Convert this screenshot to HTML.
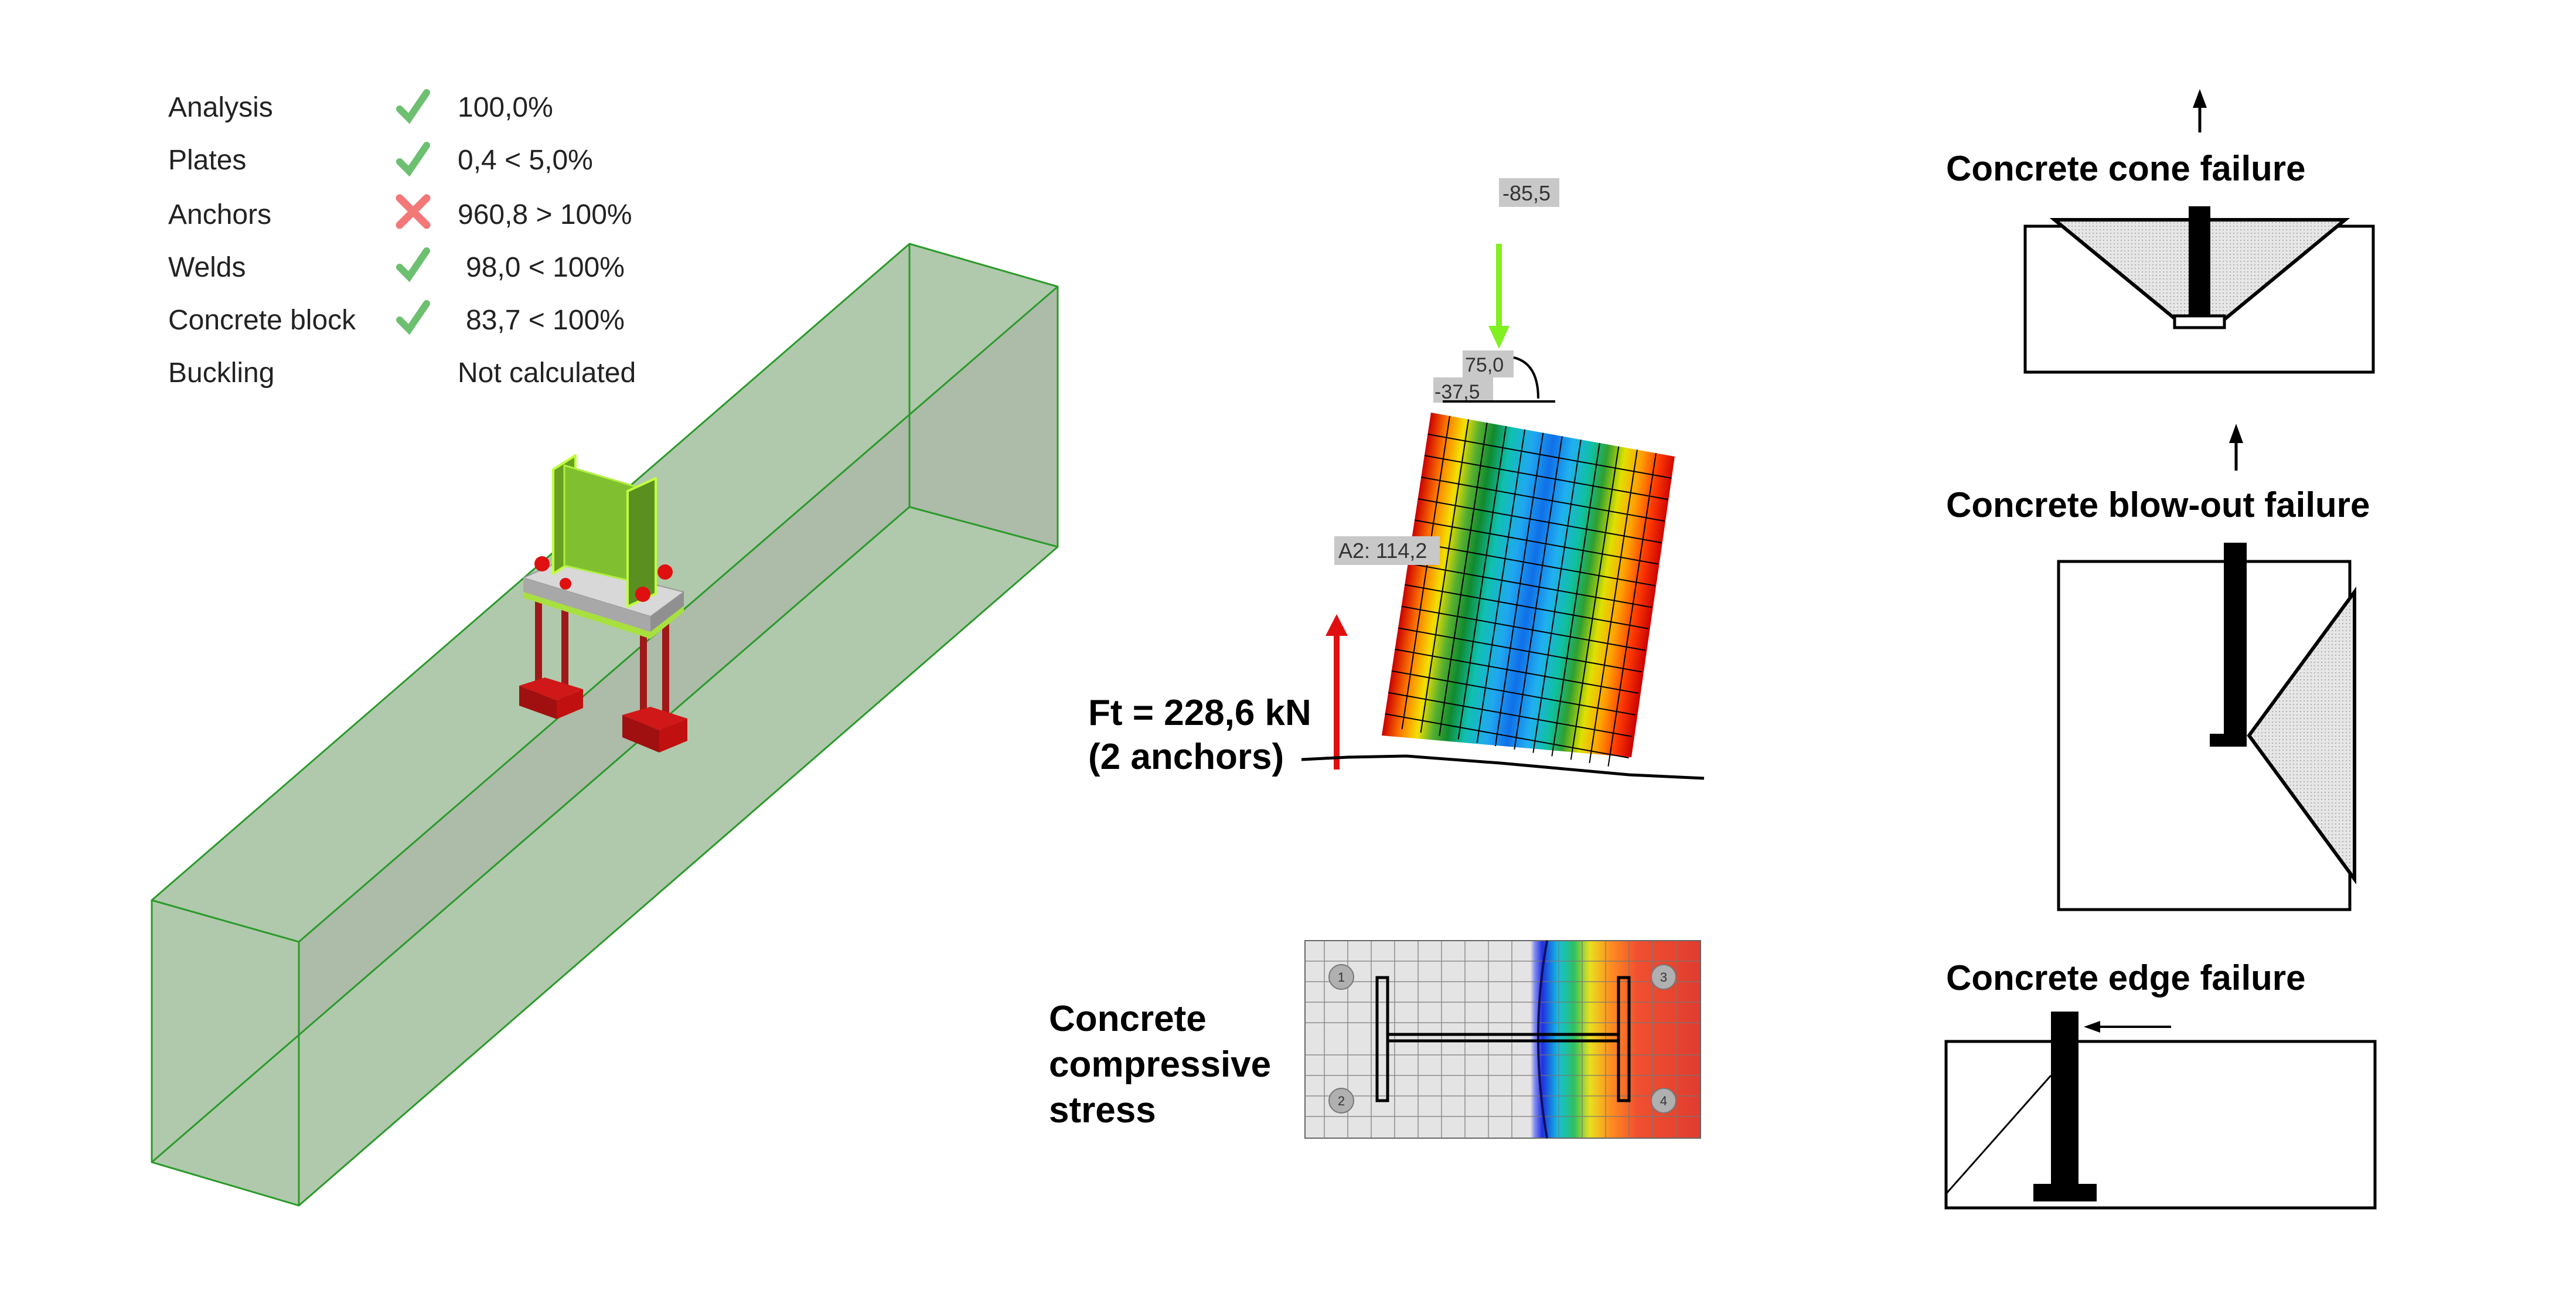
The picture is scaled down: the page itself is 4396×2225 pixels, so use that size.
<!DOCTYPE html>
<html><head><meta charset="utf-8"><style>
html,body{margin:0;padding:0;background:#fff;}
svg{display:block;}
text{font-family:"Liberation Sans",sans-serif;}
</style></head><body>
<svg width="4396" height="2225" viewBox="0 0 4396 2225" xmlns="http://www.w3.org/2000/svg">
<defs>
<linearGradient id="pg" x1="0" y1="0" x2="1" y2="0">
<stop offset="0" stop-color="#cc0000"/><stop offset="0.07" stop-color="#ff7a00"/><stop offset="0.14" stop-color="#f2e000"/><stop offset="0.2" stop-color="#58b030"/><stop offset="0.26" stop-color="#108a30"/><stop offset="0.33" stop-color="#10c0b0"/><stop offset="0.42" stop-color="#20a8f0"/><stop offset="0.5" stop-color="#1070e8"/><stop offset="0.58" stop-color="#20b0f0"/><stop offset="0.66" stop-color="#10c0a0"/><stop offset="0.72" stop-color="#30a030"/><stop offset="0.79" stop-color="#e0e000"/><stop offset="0.86" stop-color="#ffa000"/><stop offset="0.93" stop-color="#ff3a00"/><stop offset="1" stop-color="#c80000"/>
</linearGradient>
<linearGradient id="sg" x1="0" y1="0" x2="1" y2="0">
<stop offset="0" stop-color="#e4e4e4"/><stop offset="0.57" stop-color="#e4e4e4"/><stop offset="0.58" stop-color="#8890f0"/><stop offset="0.6" stop-color="#2030e0"/><stop offset="0.64" stop-color="#10c0e0"/><stop offset="0.68" stop-color="#30c060"/><stop offset="0.72" stop-color="#e8e020"/><stop offset="0.77" stop-color="#ff9020"/><stop offset="0.84" stop-color="#f05030"/><stop offset="1" stop-color="#e03c30"/>
</linearGradient>
<pattern id="dots" width="6" height="6" patternUnits="userSpaceOnUse"><rect width="6" height="6" fill="#e6e6e6"/><rect x="1" y="1" width="2" height="2" fill="#b0b0b0"/></pattern>
</defs>

<!-- results table -->
<g font-size="48" fill="#222">
<text x="287" y="199">Analysis</text>
<text x="287" y="289">Plates</text>
<text x="287" y="382">Anchors</text>
<text x="287" y="472">Welds</text>
<text x="287" y="562">Concrete block</text>
<text x="287" y="652">Buckling</text>
<text x="781" y="199">100,0%</text>
<text x="781" y="289">0,4 &lt; 5,0%</text>
<text x="781" y="382">960,8 &gt; 100%</text>
<text x="795" y="472">98,0 &lt; 100%</text>
<text x="795" y="562">83,7 &lt; 100%</text>
<text x="781" y="652">Not calculated</text>
</g>
<g stroke="#6cc070" stroke-width="12" fill="none" stroke-linecap="round">
<path d="M682 186 L698 202 L728 158"/>
<path d="M682 276 L698 292 L728 248"/>
<path d="M682 456 L698 472 L728 428"/>
<path d="M682 546 L698 562 L728 518"/>
</g>
<g stroke="#f47878" stroke-width="13" stroke-linecap="round"><path d="M682 338 L728 384 M728 338 L682 384"/></g>

<!-- green box -->
<polygon points="259,1536 1552,416 1805,489 1805,933 510,2057 259,1983" fill="#b0c9ac"/>
<polygon points="510,1607 1805,489 1805,933 1552,865 510,1766" fill="#adbba9"/>
<g stroke="#2a9a2a" stroke-width="3" fill="none" stroke-linejoin="round">
<polygon points="259,1536 1552,416 1805,489 1805,933 510,2057 259,1983"/>
<line x1="259" y1="1536" x2="510" y2="1607"/>
<line x1="510" y1="1607" x2="510" y2="2057"/>
<line x1="510" y1="1607" x2="1805" y2="489"/>
<line x1="259" y1="1983" x2="1552" y2="865"/>
<line x1="1552" y1="416" x2="1552" y2="865"/>
<line x1="1552" y1="865" x2="1805" y2="933"/>
</g>

<!-- steel model -->
<g stroke-linejoin="round">
<rect x="913" y="1021" width="12" height="185" fill="#a01818"/>
<rect x="958" y="1021" width="12" height="185" fill="#a01818"/>
<rect x="1092" y="1064" width="12" height="184" fill="#a01818"/>
<rect x="1130" y="1064" width="12" height="184" fill="#a01818"/>
<polygon points="886,1170 930,1156 995,1176 950,1195" fill="#d01818"/>
<polygon points="886,1170 950,1195 950,1227 886,1204" fill="#a01010"/>
<polygon points="950,1195 995,1176 995,1208 950,1227" fill="#c01010"/>
<polygon points="1062,1220 1110,1206 1173,1226 1125,1246" fill="#d01818"/>
<polygon points="1062,1220 1125,1246 1125,1284 1062,1258" fill="#a01010"/>
<polygon points="1125,1246 1173,1226 1173,1264 1125,1284" fill="#c01010"/>
<polygon points="893,986 957,957 1167,1010 1110,1052" fill="#d8d8d8" stroke="#999" stroke-width="2"/>
<polygon points="893,986 1110,1052 1110,1078 893,1010" fill="#a8a8a8"/>
<polygon points="1110,1052 1167,1010 1167,1034 1110,1078" fill="#909090"/>
<polygon points="893,1010 1110,1078 1167,1034 1167,1044 1110,1090 893,1020" fill="#a8e040"/>
<polygon points="944,801 982,777 982,955 944,979" fill="#6aa020" stroke="#c0ff40" stroke-width="4"/>
<polygon points="963,794 1084,830 1084,993 963,965" fill="#80c030" stroke="#b0f040" stroke-width="3"/>
<polygon points="1071,838 1119,816 1119,1013 1071,1035" fill="#5a9020" stroke="#c0ff40" stroke-width="4"/>
<circle cx="925" cy="962" r="13" fill="#e01010"/>
<circle cx="1135" cy="976" r="13" fill="#e01010"/>
<circle cx="1097" cy="1014" r="13" fill="#e01010"/>
<circle cx="965" cy="996" r="10" fill="#e01010"/>
</g>

<!-- middle: deformed plate -->
<rect x="2558" y="304" width="103" height="49" fill="#c8c8c8"/>
<text x="2564" y="342" font-size="36" fill="#333">-85,5</text>
<line x1="2558" y1="416" x2="2558" y2="560" stroke="#80f020" stroke-width="10"/>
<polygon points="2540,556 2576,556 2558,595" fill="#80f020"/>
<rect x="2496" y="598" width="87" height="46" fill="#c8c8c8"/>
<text x="2500" y="634" font-size="34" fill="#333">75,0</text>
<rect x="2446" y="644" width="102" height="43" fill="#c8c8c8"/>
<text x="2448" y="680" font-size="34" fill="#333">-37,5</text>
<line x1="2462" y1="685" x2="2654" y2="685" stroke="#000" stroke-width="4"/>
<path d="M2583 610 Q2625 620 2625 680" stroke="#000" stroke-width="4" fill="none"/>

<g transform="matrix(4.16,0.75,-0.84,5.51,2442,704)">
<polygon points="0,0 100,0 101,93 0,100" fill="url(#pg)"/>
<g stroke="#000" stroke-width="2" fill="none">
<path vector-effect="non-scaling-stroke" d="M7.7 0V97 M15.4 0V97 M23 0V97 M30.8 0V97 M38.5 0V97 M46 0V97 M53.8 0V97 M61.5 0V97 M69.2 0V97 M77 0V97 M84.6 0V97 M92.3 0V97 M0 6.7H100 M0 13.3H100 M0 20H100 M0 26.7H100 M0 33.3H100 M0 40H100 M0 46.7H100 M0 53.3H100 M0 60H100 M0 66.7H100 M0 73.3H100 M0 80H100 M0 86.7H100 M0 93.3H100"/>
</g>
</g>
<rect x="2277" y="915" width="180" height="49" fill="#c8c8c8"/>
<text x="2284" y="952" font-size="36" fill="#333">A2: 114,2</text>
<line x1="2281" y1="1080" x2="2281" y2="1313" stroke="#e01010" stroke-width="10"/>
<polygon points="2262,1085 2300,1085 2281,1048" fill="#e01010"/>
<path d="M2221 1296 L2300 1292 L2400 1290 L2560 1302 L2780 1322 L2908 1328" stroke="#000" stroke-width="5" fill="none"/>
<g font-size="62" font-weight="bold" fill="#000">
<text x="1857" y="1237">Ft = 228,6 kN</text>
<text x="1857" y="1312">(2 anchors)</text>
<text x="1790" y="1759">Concrete</text>
<text x="1790" y="1837">compressive</text>
<text x="1790" y="1915">stress</text>
</g>

<!-- stress plot -->
<rect x="2227" y="1605" width="675" height="337" fill="url(#sg)" stroke="#666" stroke-width="2"/>
<g stroke="#777" stroke-width="1.5" fill="none" opacity="0.8">
<path d="M2260 1605V1942 M2300 1605V1942 M2340 1605V1942 M2380 1605V1942 M2420 1605V1942 M2460 1605V1942 M2500 1605V1942 M2540 1605V1942 M2580 1605V1942 M2660 1605V1942 M2700 1605V1942 M2740 1605V1942 M2780 1605V1942 M2820 1605V1942 M2860 1605V1942 M2227 1640H2902 M2227 1675H2902 M2227 1710H2902 M2227 1745H2902 M2227 1800H2902 M2227 1835H2902 M2227 1870H2902 M2227 1905H2902"/>
</g>
<path d="M2640 1605 Q2610 1770 2640 1942" stroke="#101060" stroke-width="4" fill="none"/>
<g stroke="#000" stroke-width="5" fill="none">
<rect x="2350" y="1668" width="18" height="210"/>
<rect x="2762" y="1668" width="18" height="210"/>
<rect x="2368" y="1765" width="394" height="11"/>
</g>
<g fill="#b0b0b0" stroke="#777" stroke-width="2">
<circle cx="2289" cy="1667" r="21"/><circle cx="2289" cy="1878" r="21"/>
<circle cx="2839" cy="1667" r="21"/><circle cx="2839" cy="1878" r="21"/>
</g>
<g font-size="22" fill="#333" text-anchor="middle">
<text x="2289" y="1675">1</text><text x="2289" y="1886">2</text><text x="2839" y="1675">3</text><text x="2839" y="1886">4</text>
</g>

<!-- right: failure diagrams -->
<g font-size="60" font-weight="bold" fill="#000">
<text x="3321" y="308">Concrete cone failure</text>
<text x="3321" y="882">Concrete blow-out failure</text>
<text x="3321" y="1689">Concrete edge failure</text>
</g>
<line x1="3754" y1="180" x2="3754" y2="226" stroke="#000" stroke-width="5"/>
<polygon points="3742,184 3766,184 3754,152" fill="#000"/>
<line x1="3816" y1="752" x2="3816" y2="803" stroke="#000" stroke-width="5"/>
<polygon points="3804,756 3828,756 3816,723" fill="#000"/>

<rect x="3456" y="386" width="594" height="249" fill="none" stroke="#000" stroke-width="5"/>
<polygon points="3506,375 4002,375 3796,545 3713,545" fill="url(#dots)" stroke="#000" stroke-width="6"/>
<rect x="3735" y="352" width="37" height="190" fill="#000"/>
<rect x="3711" y="539" width="85" height="20" fill="#fff" stroke="#000" stroke-width="5"/>

<rect x="3513" y="958" width="497" height="594" fill="none" stroke="#000" stroke-width="5"/>
<polygon points="3838,1255 4018,1010 4018,1500" fill="url(#dots)" stroke="#000" stroke-width="6"/>
<rect x="3795" y="926" width="39" height="330" fill="#000"/>
<rect x="3771" y="1252" width="63" height="22" fill="#000"/>

<rect x="3321" y="1777" width="732" height="284" fill="none" stroke="#000" stroke-width="5"/>
<line x1="3321" y1="2037" x2="3500" y2="1835" stroke="#000" stroke-width="3"/>
<rect x="3500" y="1726" width="47" height="296" fill="#000"/>
<rect x="3470" y="2020" width="108" height="30" fill="#000"/>
<line x1="3580" y1="1752" x2="3705" y2="1752" stroke="#000" stroke-width="4"/>
<polygon points="3556,1752 3584,1742 3584,1762" fill="#000"/>
</svg>
</body></html>
